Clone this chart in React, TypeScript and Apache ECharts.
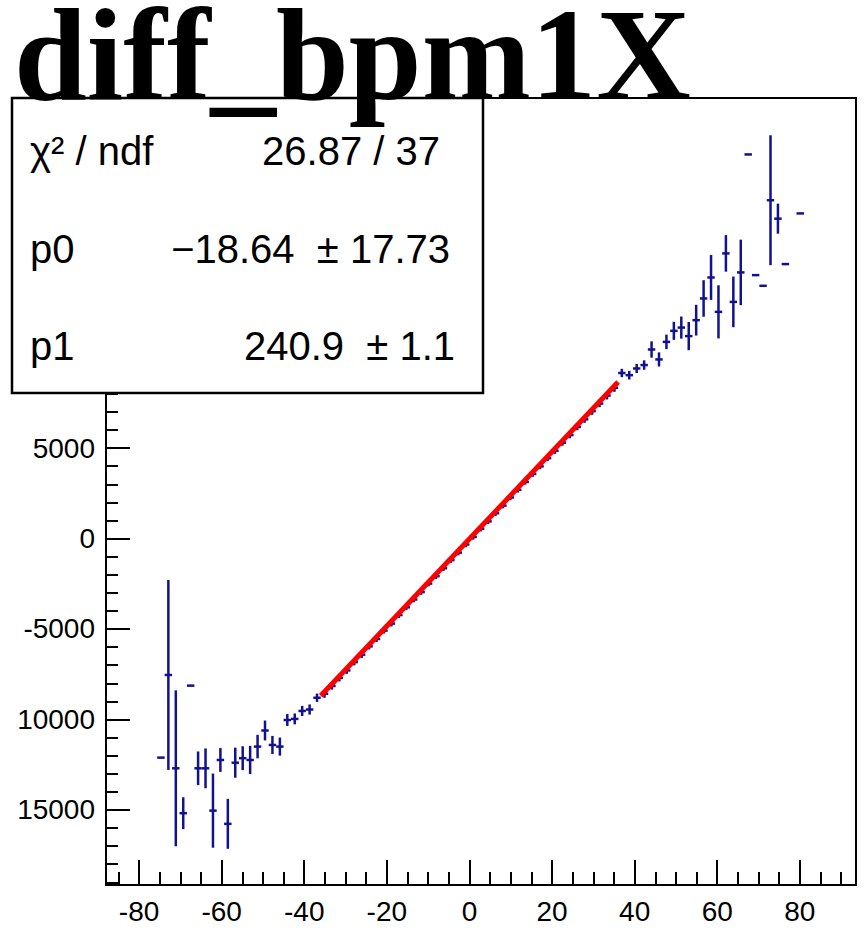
import React, { useEffect, useRef } from 'react';
import * as echarts from 'echarts';

// ---- data ----
const profX = [
  -74.7, -72.9, -71.1, -69.3, -67.5, -65.7, -63.9, -62.1, -60.3, -58.5,
  -56.7, -54.9, -53.1, -51.3, -49.5, -47.7, -45.9, -44.1, -42.3, -40.5,
  -38.7, -36.9, -35.1, -33.3, -31.5, -29.7, -27.9, -26.1, -24.3, -22.5,
  -20.7, -18.9, -17.1, -15.3, -13.5, -11.7, -9.9, -8.1, -6.3, -4.5,
  -2.7, -0.9, 0.9, 2.7, 4.5, 6.3, 8.1, 9.9, 11.7, 13.5,
  15.3, 17.1, 18.9, 20.7, 22.5, 24.3, 26.1, 27.9, 29.7, 31.5,
  33.3, 35.1, 36.9, 38.7, 40.5, 42.3, 44.1, 45.9, 47.7, 49.5,
  51.3, 53.1, 54.9, 56.7, 58.5, 60.3, 62.1, 63.9, 65.7, 67.5,
  69.3, 71.1, 72.9, 74.7, 76.5, 80.1,
];
const profY = [
  -12110, -7540, -12700, -15180, -8130, -12700, -12700, -15040, -12240, -15770,
  -12390, -12140, -12240, -11500, -10610, -11410, -11500, -10030, -9970, -9530,
  -9450, -8800, -8580, -8150, -7700, -7290, -6830, -6420, -5960, -5550,
  -5090, -4700, -4230, -3800, -3370, -2960, -2490, -2080, -1640, -1190,
  -780, -330, 90, 540, 950, 1400, 1820, 2270, 2690, 3130,
  3570, 3990, 4440, 4850, 5300, 5720, 6170, 6590, 7040, 7460,
  7900, 8330, 9150, 9030, 9400, 9590, 10450, 9900, 10870, 11480,
  11660, 11190, 12070, 13270, 14430, 12530, 15760, 13080, 14710, 21230,
  14560, 13970, 18700, 17680, 15170, 17970,
];
const profErr = [
  0, 5250, 4310, 880, 0, 930, 1100, 2050, 660, 1380,
  830, 660, 780, 650, 550, 500, 500, 330, 300, 280,
  280, 230, 220, 200, 200, 190, 180, 180, 170, 170,
  160, 160, 160, 150, 150, 150, 150, 150, 150, 150,
  150, 150, 150, 150, 150, 150, 150, 150, 150, 150,
  160, 160, 160, 170, 170, 180, 180, 190, 200, 200,
  210, 220, 230, 240, 250, 260, 450, 390, 400, 500,
  610, 780, 850, 1010, 1240, 1470, 1010, 1400, 1810, 0,
  0, 0, 3590, 830, 0, 0,
];
const binWidth = 1.8;

const fitX = [-36, 36];
const fitY = [-8691, 8654];

const xTickValues = [-80, -60, -40, -20, 0, 20, 40, 60, 80];
const xMinorValues = [-85, -75, -70, -65, -55, -50, -45, -35, -30, -25, -15, -10, -5, 5, 10, 15, 25, 30, 35, 45, 50, 55, 65, 70, 75, 85, 90];
const yTickValues = [-15000, -10000, -5000, 0, 5000, 10000, 15000, 20000];
// labels that are visible in the reference (the upper ones sit under the stats box)
const yLabelValues = [-15000, -10000, -5000, 0, 5000];
const yLabelText = ['15000', '10000', '-5000', '0', '5000'];
const yMinorValues = [
  -19000, -18000, -17000, -16000, -14000, -13000, -12000, -11000, -9000, -8000,
  -7000, -6000, -4000, -3000, -2000, -1000, 1000, 2000, 3000, 4000,
  6000, 7000, 8000, 9000, 11000, 12000, 13000, 14000, 16000, 17000,
  18000, 19000, 21000, 22000, 23000, 24000,
];

const titleText = 'diff_bpm1X';
const statLabels = ['χ² / ndf', 'p0', 'p1'];
const statValues = ['26.87 / 37', '−18.64  ± 17.73', '240.9  ± 1.1'];

const X_MIN = -88;
const X_MAX = 93.6;
const Y_MIN = -19150;
const Y_MAX = 24350;

const BLUE = '#12128f';
const SANS = '"Liberation Sans", Arial, Helvetica, sans-serif';

export default function App() {
  const ref = useRef<HTMLDivElement>(null);

  useEffect(() => {
    if (!ref.current) return;
    const chart = echarts.init(ref.current, null, { renderer: 'svg' });
    const profData = profX.map((x, i) => [x, profY[i], profErr[i]]);

    const statRowsY = [151, 249, 346];
    const statRight = [440, 450, 455];

    const graphics: any[] = [
      {
        type: 'rect',
        z: 50,
        shape: { x: 12, y: 98, width: 471, height: 295 },
        style: { fill: '#ffffff', stroke: '#000000', lineWidth: 2.5 },
      },
    ];
    statLabels.forEach((t, i) => {
      graphics.push({
        type: 'text',
        z: 60,
        x: 30,
        y: statRowsY[i],
        style: {
          text: t,
          fontFamily: SANS,
          fontSize: 40,
          lineHeight: 44,
          fill: '#000',
          align: 'left',
          verticalAlign: 'middle',
        },
      });
      graphics.push({
        type: 'text',
        z: 60,
        x: statRight[i],
        y: statRowsY[i],
        style: {
          text: statValues[i],
          fontFamily: SANS,
          fontSize: 40,
          lineHeight: 44,
          fill: '#000',
          align: 'right',
          verticalAlign: 'middle',
        },
      });
    });
    graphics.push({
      type: 'text',
      z: 80,
      x: 14,
      y: 54,
      style: {
        text: titleText,
        fontFamily: '"Liberation Serif", "Times New Roman", serif',
        fontWeight: 'bold',
        fontSize: 131,
        lineHeight: 106,
        fill: '#000',
        align: 'left',
        verticalAlign: 'middle',
      },
    });

    chart.setOption({
      animation: false,
      backgroundColor: '#ffffff',
      grid: {
        left: 106,
        right: 9,
        top: 98,
        bottom: 56,
        show: true,
        borderColor: '#000',
        borderWidth: 2,
        backgroundColor: 'transparent',
      },
      xAxis: [
        {
          type: 'value',
          min: X_MIN,
          max: X_MAX,
          position: 'bottom',
          axisLine: { show: true, onZero: false, lineStyle: { color: '#000', width: 2 } },
          splitLine: { show: false },
          axisTick: {
            show: true,
            inside: true,
            length: 25,
            customValues: xTickValues,
            lineStyle: { color: '#000', width: 2 },
          },
          axisLabel: {
            show: true,
            customValues: xTickValues,
            margin: 12,
            fontFamily: SANS,
            fontSize: 28,
            color: '#000',
            formatter: (v: number) => String(v),
          },
        },
        {
          type: 'value',
          min: X_MIN,
          max: X_MAX,
          position: 'bottom',
          axisLine: { show: false, onZero: false },
          splitLine: { show: false },
          axisTick: {
            show: true,
            inside: true,
            length: 13,
            customValues: xMinorValues,
            lineStyle: { color: '#000', width: 2 },
          },
          axisLabel: { show: false },
        },
      ],
      yAxis: [
        {
          type: 'value',
          min: Y_MIN,
          max: Y_MAX,
          position: 'left',
          axisLine: { show: true, onZero: false, lineStyle: { color: '#000', width: 2 } },
          splitLine: { show: false },
          axisTick: {
            show: true,
            inside: true,
            length: 24,
            customValues: yTickValues,
            lineStyle: { color: '#000', width: 2 },
          },
          axisLabel: {
            show: true,
            customValues: yLabelValues,
            margin: 11,
            fontFamily: SANS,
            fontSize: 28,
            color: '#000',
            formatter: (v: number) => {
              const idx = yLabelValues.indexOf(v);
              return idx >= 0 ? yLabelText[idx] : String(v);
            },
          },
        },
        {
          type: 'value',
          min: Y_MIN,
          max: Y_MAX,
          position: 'left',
          axisLine: { show: false, onZero: false },
          splitLine: { show: false },
          axisTick: {
            show: true,
            inside: true,
            length: 12,
            customValues: yMinorValues,
            lineStyle: { color: '#000', width: 2 },
          },
          axisLabel: { show: false },
        },
      ],
      graphic: { elements: graphics },
      series: [
        {
          type: 'custom',
          xAxisIndex: 0,
          yAxisIndex: 0,
          z: 2,
          clip: true,
          data: profData,
          encode: { x: 0, y: 1 },
          renderItem: (params: any, api: any) => {
            const x = api.value(0);
            const y = api.value(1);
            const e = api.value(2);
            const l = api.coord([x - binWidth / 2, y]);
            const r = api.coord([x + binWidth / 2, y]);
            const children: any[] = [
              {
                type: 'line',
                shape: { x1: l[0], y1: l[1], x2: r[0], y2: r[1] },
                style: { stroke: BLUE, lineWidth: 2.5 },
              },
            ];
            if (e > 0) {
              const t = api.coord([x, y + e]);
              const b = api.coord([x, y - e]);
              children.push({
                type: 'line',
                shape: { x1: t[0], y1: t[1], x2: b[0], y2: b[1] },
                style: { stroke: BLUE, lineWidth: 2.5 },
              });
            }
            return { type: 'group', children };
          },
        },
        {
          type: 'line',
          xAxisIndex: 0,
          yAxisIndex: 0,
          z: 5,
          data: fitX.map((x, i) => [x, fitY[i]]),
          showSymbol: false,
          symbol: 'none',
          lineStyle: { color: '#ff0000', width: 5 },
        },
      ],
    });

    return () => {
      chart.dispose();
    };
  }, []);

  return (
    <div
      ref={ref}
      style={{ position: 'fixed', left: 0, top: 0, width: 865, height: 941, background: '#fff' }}
    />
  );
}
